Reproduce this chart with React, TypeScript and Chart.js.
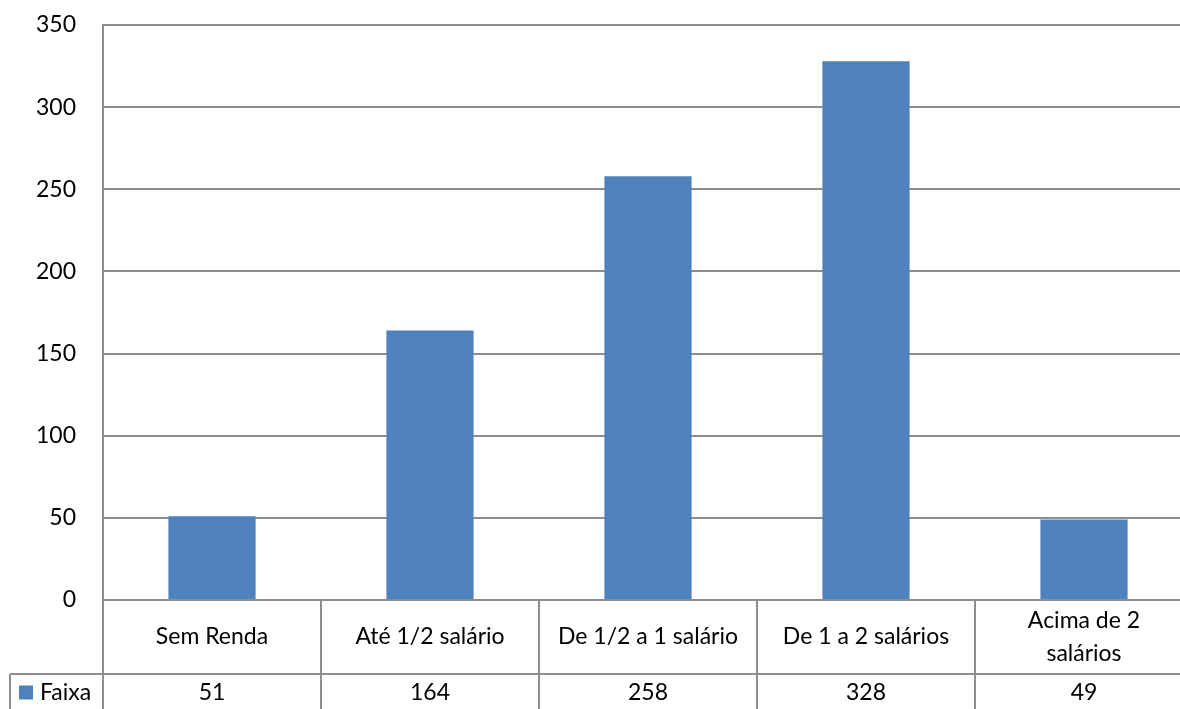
import React, { useEffect, useRef } from 'react';
import { Chart, registerables } from 'chart.js';

Chart.register(...registerables);

const categories = ['Sem Renda', 'Até 1/2 salário', 'De 1/2 a 1 salário', 'De 1 a 2 salários', 'Acima de 2 salários'];
const categoryLines = [['Sem Renda'], ['Até 1/2 salário'], ['De 1/2 a 1 salário'], ['De 1 a 2 salários'], ['Acima de 2', 'salários']];
const seriesName = 'Faixa';
const values = [51, 164, 258, 328, 49];
const yMin = 0;
const yMax = 350;
const yStep = 50;

const BAR = '#4f81bd';
const GRID = '#8e8e8e';
const FONT = 'Lato, "Open Sans", sans-serif';

const tablePlugin = {
  id: 'dataTable',
  afterDraw(chart: any) {
    const ctx = chart.ctx as CanvasRenderingContext2D;
    const { left, right, bottom } = chart.chartArea;
    const xs = chart.scales.x;
    const n = categories.length;
    const w = (right - left) / n;
    const row1Top = bottom;
    const row2Top = bottom + 74;
    const row2Bottom = chart.height;
    ctx.save();
    ctx.strokeStyle = GRID;
    ctx.lineWidth = 2;
    ctx.beginPath();
    ctx.moveTo(10, row2Top);
    ctx.lineTo(chart.width, row2Top);
    ctx.moveTo(10, row2Top);
    ctx.lineTo(10, row2Bottom);
    for (let i = 0; i <= n; i++) {
      const cx = Math.round(xs.getPixelForValue(i) - w / 2);
      ctx.moveTo(cx, row1Top);
      ctx.lineTo(cx, row2Bottom);
    }
    ctx.stroke();

    ctx.fillStyle = '#000';
    ctx.font = `23px ${FONT}`;
    ctx.textAlign = 'center';
    ctx.textBaseline = 'middle';
    const r1Center = (row1Top + row2Top) / 2;
    const r2Center = (row2Top + row2Bottom) / 2 + 1;
    categoryLines.forEach((lines, i) => {
      const cx = xs.getPixelForValue(i);
      const lh = 33;
      const startY = r1Center - ((lines.length - 1) * lh) / 2;
      lines.forEach((t, j) => ctx.fillText(t, cx, startY + j * lh));
      ctx.fillText(String(values[i]), cx, r2Center);
    });
    ctx.fillStyle = BAR;
    ctx.fillRect(19, r2Center - 7, 14, 14);
    ctx.fillStyle = '#000';
    ctx.textAlign = 'left';
    ctx.fillText(seriesName, 40, r2Center);
    ctx.restore();
  },
};

export default function App() {
  const ref = useRef<HTMLCanvasElement>(null);
  useEffect(() => {
    if (!ref.current) return;
    const chart = new Chart(ref.current, {
      type: 'bar',
      data: {
        labels: categories,
        datasets: [
          {
            label: seriesName,
            data: values,
            backgroundColor: BAR,
            barPercentage: 1,
            categoryPercentage: 0.4,
          },
        ],
      },
      options: {
        responsive: false,
        animation: false,
        layout: { padding: { top: 25, right: 7, left: 0, bottom: 0 } },
        plugins: { legend: { display: false }, tooltip: { enabled: false } },
        scales: {
          x: {
            grid: { display: false },
            border: { display: false },
            ticks: { display: false },
            afterFit: (s: any) => {
              s.height = 109;
              s.paddingLeft = 0;
              s.paddingRight = 0;
            },
          },
          y: {
            min: yMin,
            max: yMax,
            ticks: {
              stepSize: yStep,
              padding: 27,
              color: '#000',
              font: { family: FONT, size: 23 },
            },
            grid: { color: GRID, lineWidth: 2, drawTicks: false },
            border: { display: true, color: GRID, width: 2 },
            afterFit: (s: any) => {
              s.width = 103;
              s.paddingTop = 0;
              s.paddingBottom = 0;
            },
          },
        },
      },
      plugins: [tablePlugin],
    });
    return () => chart.destroy();
  }, []);
  return (
    <div style={{ position: 'absolute', left: 0, top: 0, width: 1180, height: 709, overflow: 'hidden', background: '#fff' }}>
      <canvas ref={ref} width={1200} height={709} style={{ display: 'block' }} />
    </div>
  );
}
